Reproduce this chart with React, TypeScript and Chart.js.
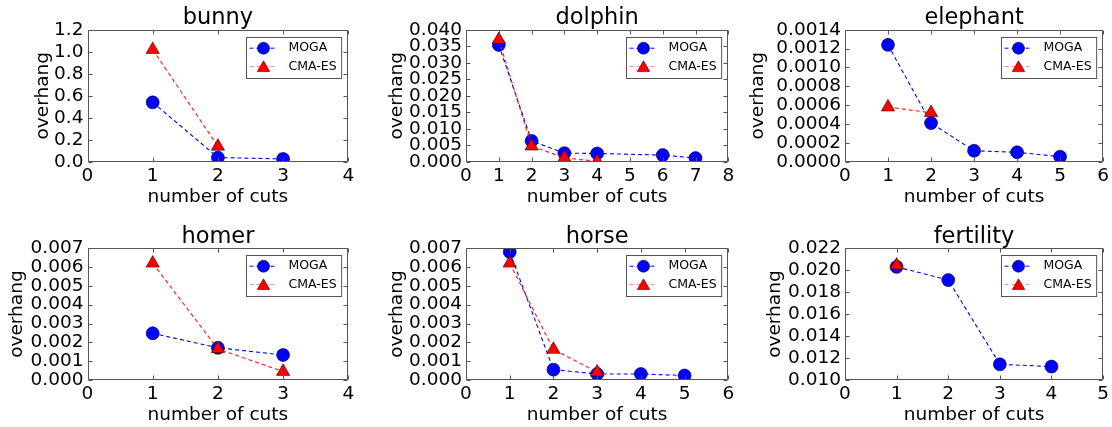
import React, { useEffect, useRef } from "react";
import { Chart, registerables } from "chart.js";

Chart.register(...registerables);

const FONT = "'DejaVu Sans', 'Liberation Sans', sans-serif";

const seriesNames = ["MOGA", "CMA-ES"];
const xAxisLabel = "number of cuts";
const yAxisLabel = "overhang";

// bunny
const bunnyMogaX = [1, 2, 3];
const bunnyMogaY = [0.54, 0.038, 0.025];
const bunnyCmaX = [1, 2];
const bunnyCmaY = [1.02, 0.14];
const bunnyXTicks = [0, 1, 2, 3, 4];
const bunnyYTicks = [0, 0.2, 0.4, 0.6, 0.8, 1.0, 1.2];

// dolphin
const dolphinMogaX = [1, 2, 3, 4, 6, 7];
const dolphinMogaY = [0.0354, 0.0063, 0.0026, 0.0025, 0.002, 0.0011];
const dolphinCmaX = [1, 2, 3, 4];
const dolphinCmaY = [0.037, 0.0047, 0.0012, 0.0001];
const dolphinXTicks = [0, 1, 2, 3, 4, 5, 6, 7, 8];
const dolphinYTicks = [0, 0.005, 0.01, 0.015, 0.02, 0.025, 0.03, 0.035, 0.04];

// elephant
const elephantMogaX = [1, 2, 3, 4, 5];
const elephantMogaY = [0.00124, 0.00041, 0.000116, 0.0001, 0.000053];
const elephantCmaX = [1, 2];
const elephantCmaY = [0.00058, 0.00052];
const elephantXTicks = [0, 1, 2, 3, 4, 5, 6];
const elephantYTicks = [0, 0.0002, 0.0004, 0.0006, 0.0008, 0.001, 0.0012, 0.0014];

// homer
const homerMogaX = [1, 2, 3];
const homerMogaY = [0.00248, 0.00171, 0.00133];
const homerCmaX = [1, 2, 3];
const homerCmaY = [0.0062, 0.00165, 0.00045];
const homerXTicks = [0, 1, 2, 3, 4];
const homerYTicks = [0, 0.001, 0.002, 0.003, 0.004, 0.005, 0.006, 0.007];

// horse
const horseMogaX = [1, 2, 3, 4, 5];
const horseMogaY = [0.0068, 0.00055, 0.00032, 0.00032, 0.00024];
const horseCmaX = [1, 2, 3];
const horseCmaY = [0.0062, 0.00162, 0.00042];
const horseXTicks = [0, 1, 2, 3, 4, 5, 6];
const horseYTicks = [0, 0.001, 0.002, 0.003, 0.004, 0.005, 0.006, 0.007];

// fertility
const fertilityMogaX = [1, 2, 3, 4];
const fertilityMogaY = [0.0203, 0.0191, 0.01143, 0.01122];
const fertilityCmaX = [1];
const fertilityCmaY = [0.02045];
const fertilityXTicks = [0, 1, 2, 3, 4, 5];
const fertilityYTicks = [0.01, 0.012, 0.014, 0.016, 0.018, 0.02, 0.022];

const titles = ["bunny", "dolphin", "elephant", "homer", "horse", "fertility"];

type PanelCfg = {
  title: string;
  mogaX: number[];
  mogaY: number[];
  cmaX: number[];
  cmaY: number[];
  xTicks: number[];
  yTicks: number[];
  yDecimals: number;
  left: number;
  top: number;
  w: number;
  h: number;
  yW: number;
  xH: number;
  padRight: number;
  titlePadTop: number;
  yTitlePad: number;
  xTitlePad: number;
};

const colLeft = [0, 370, 740];
const colW = [370, 370, 372];
const rowTop = [0, 210];
const rowH = [210, 217];

const panels: PanelCfg[] = [
  { title: titles[0], mogaX: bunnyMogaX, mogaY: bunnyMogaY, cmaX: bunnyCmaX, cmaY: bunnyCmaY, xTicks: bunnyXTicks, yTicks: bunnyYTicks, yDecimals: 1,
    left: colLeft[0], top: rowTop[0], w: colW[0], h: rowH[0], yW: 87.5, xH: 48.3, padRight: 21.7, titlePadTop: 7.3, yTitlePad: 32.2, xTitlePad: 2.2 },
  { title: titles[1], mogaX: dolphinMogaX, mogaY: dolphinMogaY, cmaX: dolphinCmaX, cmaY: dolphinCmaY, xTicks: dolphinXTicks, yTicks: dolphinYTicks, yDecimals: 3,
    left: colLeft[1], top: rowTop[0], w: colW[1], h: rowH[0], yW: 96, xH: 48.3, padRight: 11.7, titlePadTop: 7.3, yTitlePad: 16.5, xTitlePad: 2.2 },
  { title: titles[2], mogaX: elephantMogaX, mogaY: elephantMogaY, cmaX: elephantCmaX, cmaY: elephantCmaY, xTicks: elephantXTicks, yTicks: elephantYTicks, yDecimals: 4,
    left: colLeft[2], top: rowTop[0], w: colW[2], h: rowH[0], yW: 105, xH: 48.3, padRight: 5.3, titlePadTop: 7.3, yTitlePad: 7.2, xTitlePad: 2.2 },
  { title: titles[3], mogaX: homerMogaX, mogaY: homerMogaY, cmaX: homerCmaX, cmaY: homerCmaY, xTicks: homerXTicks, yTicks: homerYTicks, yDecimals: 3,
    left: colLeft[0], top: rowTop[1], w: colW[0], h: rowH[1], yW: 87.5, xH: 47, padRight: 21.7, titlePadTop: 15.7, yTitlePad: 6.2, xTitlePad: 1.2 },
  { title: titles[4], mogaX: horseMogaX, mogaY: horseMogaY, cmaX: horseCmaX, cmaY: horseCmaY, xTicks: horseXTicks, yTicks: horseYTicks, yDecimals: 3,
    left: colLeft[1], top: rowTop[1], w: colW[1], h: rowH[1], yW: 96, xH: 47, padRight: 11.7, titlePadTop: 15.7, yTitlePad: 16.5, xTitlePad: 1.2 },
  { title: titles[5], mogaX: fertilityMogaX, mogaY: fertilityMogaY, cmaX: fertilityCmaX, cmaY: fertilityCmaY, xTicks: fertilityXTicks, yTicks: fertilityYTicks, yDecimals: 3,
    left: colLeft[2], top: rowTop[1], w: colW[2], h: rowH[1], yW: 105, xH: 47, padRight: 5.3, titlePadTop: 15.7, yTitlePad: 24, xTitlePad: 1.2 },
];

const BLUE = "#0000ff";
const RED = "#ff0000";
const FRAME = "#555555";

function drawMarker(ctx: CanvasRenderingContext2D, kind: string, x: number, y: number, r: number, fill: string, stroke: string) {
  ctx.save();
  ctx.fillStyle = fill;
  ctx.strokeStyle = stroke;
  ctx.lineWidth = 0.6;
  ctx.beginPath();
  if (kind === "circle") {
    ctx.arc(x, y, r, 0, Math.PI * 2);
  } else {
    ctx.moveTo(x, y - r);
    ctx.lineTo(x + r * Math.sin((2 * Math.PI) / 3), y - r * Math.cos((2 * Math.PI) / 3));
    ctx.lineTo(x + r * Math.sin((4 * Math.PI) / 3), y - r * Math.cos((4 * Math.PI) / 3));
    ctx.closePath();
  }
  ctx.fill();
  ctx.stroke();
  ctx.restore();
}

function Panel({ cfg }: { cfg: PanelCfg }) {
  const ref = useRef<HTMLCanvasElement>(null);

  useEffect(() => {
    if (!ref.current) return;

    const framePlugin = {
      id: "frameTicks",
      afterDatasetsDraw(chart: any) {
        const { ctx, chartArea: a, scales } = chart;
        ctx.save();
        ctx.strokeStyle = FRAME;
        ctx.lineWidth = 1;
        const L = Math.round(a.left) + 0.5;
        const R = Math.round(a.right) - 0.5;
        const T = Math.round(a.top) + 0.5;
        const B = Math.round(a.bottom) - 0.5;
        ctx.beginPath();
        ctx.rect(L, T, R - L, B - T);
        ctx.stroke();
        const tl = 4;
        ctx.beginPath();
        cfg.xTicks.forEach((v) => {
          const px = Math.round(scales.x.getPixelForValue(v)) + 0.5;
          ctx.moveTo(px, B);
          ctx.lineTo(px, B - tl);
          ctx.moveTo(px, T);
          ctx.lineTo(px, T + tl);
        });
        cfg.yTicks.forEach((v) => {
          const py = Math.round(scales.y.getPixelForValue(v)) + 0.5;
          ctx.moveTo(L, py);
          ctx.lineTo(L + tl, py);
          ctx.moveTo(R, py);
          ctx.lineTo(R - tl, py);
        });
        ctx.stroke();

        // legend
        ctx.font = `12.5px ${FONT}`;
        const textW = Math.max(...seriesNames.map((s) => ctx.measureText(s).width));
        const boxW = 42 + textW + 5;
        const boxH = 41;
        const bx = Math.round(a.right - 7 - boxW) + 0.5;
        const by = Math.round(a.top + 6.7) + 0.5;
        ctx.fillStyle = "#ffffff";
        ctx.fillRect(bx, by, boxW, boxH);
        ctx.strokeStyle = FRAME;
        ctx.lineWidth = 1;
        ctx.strokeRect(bx, by, boxW, boxH);
        const rows = [by + 10.7, by + 29];
        const styles = [
          { line: BLUE, kind: "circle", r: 6, fill: BLUE, stroke: "#000033" },
          { line: "rgba(255,0,0,0.45)", kind: "triangle", r: 7.2, fill: RED, stroke: "#330000" },
        ];
        seriesNames.forEach((name, i) => {
          const s = styles[i];
          const cy = rows[i];
          ctx.save();
          ctx.strokeStyle = s.line;
          ctx.lineWidth = 1;
          ctx.setLineDash([4, 3]);
          ctx.beginPath();
          ctx.moveTo(bx + 3, cy);
          ctx.lineTo(bx + 30, cy);
          ctx.stroke();
          ctx.restore();
          drawMarker(ctx, s.kind, bx + 17, cy + (s.kind === "triangle" ? 1.5 : 0), s.r, s.fill, s.stroke);
          ctx.fillStyle = "#000";
          ctx.textAlign = "left";
          ctx.textBaseline = "middle";
          ctx.fillText(name, bx + 42, cy);
        });
        ctx.restore();
      },
    };

    const tickFont = { family: FONT, size: 18.5 };

    const chart = new Chart(ref.current, {
      type: "line",
      data: {
        datasets: [
          {
            label: seriesNames[0],
            data: cfg.mogaX.map((x, i) => ({ x, y: cfg.mogaY[i] })),
            borderColor: BLUE,
            borderWidth: 1.1,
            borderDash: [4, 3],
            pointStyle: "circle",
            pointRadius: 6.5,
            pointBackgroundColor: BLUE,
            pointBorderColor: "#000033",
            pointBorderWidth: 0.6,
            fill: false,
            tension: 0,
            clip: 0,
            order: 2,
          },
          {
            label: seriesNames[1],
            data: cfg.cmaX.map((x, i) => ({ x, y: cfg.cmaY[i] })),
            borderColor: "rgba(255,0,0,0.85)",
            borderWidth: 1.2,
            borderDash: [4, 3],
            pointStyle: "triangle",
            pointRadius: 7.7,
            pointBackgroundColor: RED,
            pointBorderColor: "#330000",
            pointBorderWidth: 0.6,
            fill: false,
            tension: 0,
            clip: 0,
            order: 1,
          },
        ],
      },
      options: {
        animation: false,
        responsive: false,
        maintainAspectRatio: false,
        layout: { padding: { left: 0, right: cfg.padRight, top: 0, bottom: 0 } },
        plugins: {
          legend: { display: false },
          tooltip: { enabled: false },
          title: {
            display: true,
            text: cfg.title,
            fullSize: false,
            color: "#000",
            font: { family: FONT, size: 22.5, weight: "normal", lineHeight: 1 },
            padding: { top: cfg.titlePadTop, bottom: 0 },
          },
        },
        scales: {
          x: {
            type: "linear",
            min: cfg.xTicks[0],
            max: cfg.xTicks[cfg.xTicks.length - 1],
            afterBuildTicks: (s: any) => {
              s.ticks = cfg.xTicks.map((v) => ({ value: v }));
            },
            afterFit: (s: any) => {
              s.height = cfg.xH;
            },
            grid: { display: false, drawTicks: false },
            border: { display: false },
            ticks: {
              color: "#000",
              font: tickFont,
              padding: 3,
              maxRotation: 0,
              autoSkip: false,
              callback: (v: any) => String(v),
            },
            title: {
              display: true,
              text: xAxisLabel,
              color: "#000",
              font: { family: FONT, size: 18.5 },
              padding: { top: 0, bottom: cfg.xTitlePad },
            },
          },
          y: {
            type: "linear",
            min: cfg.yTicks[0],
            max: cfg.yTicks[cfg.yTicks.length - 1],
            afterBuildTicks: (s: any) => {
              s.ticks = cfg.yTicks.map((v) => ({ value: v }));
            },
            afterFit: (s: any) => {
              s.width = cfg.yW;
            },
            grid: { display: false, drawTicks: false },
            border: { display: false },
            ticks: {
              color: "#000",
              font: tickFont,
              padding: 4,
              autoSkip: false,
              callback: (v: any) => Number(v).toFixed(cfg.yDecimals),
            },
            title: {
              display: true,
              text: yAxisLabel,
              color: "#000",
              font: { family: FONT, size: 18.5 },
              padding: { top: cfg.yTitlePad, bottom: 0 },
            },
          },
        },
      },
      plugins: [framePlugin],
    } as any);

    return () => chart.destroy();
  }, [cfg]);

  return (
    <div style={{ position: "absolute", left: cfg.left, top: cfg.top, width: cfg.w, height: cfg.h }}>
      <canvas ref={ref} width={cfg.w} height={cfg.h} style={{ display: "block", width: cfg.w, height: cfg.h }} />
    </div>
  );
}

export default function App() {
  return (
    <div style={{ position: "absolute", left: 0, top: 0, width: 1112, height: 427, background: "#fff", overflow: "hidden" }}>
      {panels.map((p) => (
        <Panel key={p.title} cfg={p} />
      ))}
    </div>
  );
}
